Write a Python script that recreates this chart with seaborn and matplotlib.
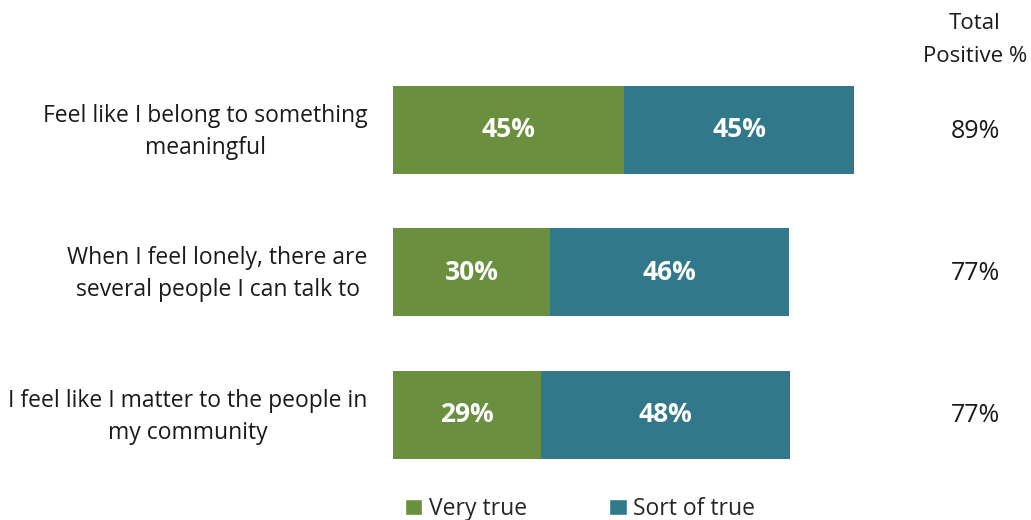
import matplotlib
matplotlib.use("Agg")
import matplotlib.pyplot as plt
import matplotlib.transforms as mtrans
import seaborn as sns
import pandas as pd
from matplotlib.patches import Patch

categories = [
    "Feel like I belong to something\nmeaningful",
    "When I feel lonely, there are\nseveral people I can talk to",
    "I feel like I matter to the people in\nmy community",
]
very_true = [44.7, 30.4, 28.6]
sort_of_true = [44.55, 46.3, 48.2]
series_names = ["Very true", "Sort of true"]
total_header = "Total\nPositive %"

GREEN = "#6A8F3E"
TEAL = "#31798A"

sns.set_theme(style="white")
plt.rcParams["font.family"] = ["Open Sans", "DejaVu Sans"]

df = pd.DataFrame({"cat": categories, "very": very_true, "sort": sort_of_true})
df["total"] = df["very"] + df["sort"]

fig = plt.figure(figsize=(10.31, 5.2), dpi=100)
ax = fig.add_axes([0.381, 0.0654, 0.5015, 0.822])

sns.barplot(data=df, y="cat", x="total", color=TEAL, orient="h", width=0.62,
            ax=ax, saturation=1, linewidth=0)
sns.barplot(data=df, y="cat", x="very", color=GREEN, orient="h", width=0.62,
            ax=ax, saturation=1, linewidth=0)

ax.set_xlim(0, 100)
ax.set_ylim(2.5, -0.5)
ax.set_xlabel("")
ax.set_ylabel("")
ax.set_xticks([])
ax.set_yticklabels([])
ax.tick_params(axis="y", length=0)
for s in ax.spines.values():
    s.set_visible(False)

label_tr = mtrans.blended_transform_factory(ax.transAxes, ax.transData) + \
    mtrans.ScaledTranslation(-25 / 100, -2 / 100, fig.dpi_scale_trans)
for i, cat in enumerate(df["cat"]):
    ax.text(0, i, cat, transform=label_tr, ha="right", va="center",
            fontsize=16.5, color="#1a1a1a", linespacing=1.45, multialignment="center")

for i, (v, s, t) in enumerate(zip(df["very"], df["sort"], df["total"])):
    ax.text(v / 2, i, f"{round(v)}%", ha="center", va="center", color="white",
            fontsize=19, fontweight="bold")
    ax.text(v + s / 2, i, f"{round(s)}%", ha="center", va="center", color="white",
            fontsize=19, fontweight="bold")
    fig.text(975 / 1031, 1 - (131 + i * 142.5) / 520, f"{round(t)}%", ha="center",
             va="center", fontsize=18, color="#1a1a1a")

fig.text(975 / 1031, 1 - 40 / 520, total_header, ha="center", va="center",
         fontsize=16, color="#1a1a1a", linespacing=1.8)

handles = [Patch(facecolor=GREEN, label=series_names[0]),
           Patch(facecolor=TEAL, label=series_names[1])]
fig.legend(handles=handles, loc="center", bbox_to_anchor=(580 / 1031, 1 - 509 / 520),
           ncol=2, frameon=False, fontsize=16.5, handlelength=0.75, handleheight=0.75,
           handletextpad=0.3, columnspacing=3.6)

fig.savefig("out.png", dpi=100, facecolor="white")
